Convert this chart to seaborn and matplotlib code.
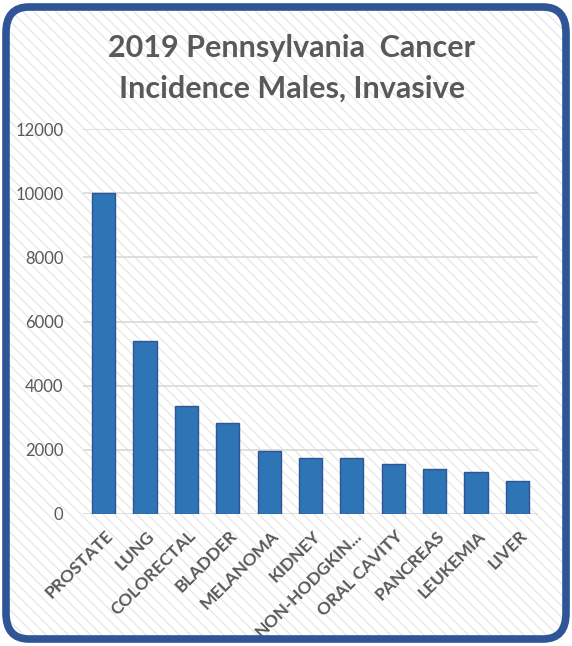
import matplotlib
matplotlib.use('Agg')
import matplotlib.pyplot as plt
from matplotlib.patches import FancyBboxPatch
from matplotlib.transforms import ScaledTranslation
import seaborn as sns
import pandas as pd

# data
cancer_sites = ['PROSTATE', 'LUNG', 'COLORECTAL', 'BLADDER', 'MELANOMA', 'KIDNEY',
                'NON-HODGKIN...', 'ORAL CAVITY', 'PANCREAS', 'LEUKEMIA', 'LIVER']
cases = [10000, 5400, 3370, 2845, 1970, 1760, 1760, 1565, 1400, 1295, 1040]
y_ticks = [0, 2000, 4000, 6000, 8000, 10000, 12000]

title = '2019 Pennsylvania  Cancer\nIncidence Males, Invasive'

sns.set_theme(style='white')
plt.rcParams['font.family'] = ['Lato', 'DejaVu Sans']
plt.rcParams['hatch.linewidth'] = 0.9

W, H = 572, 646
fig = plt.figure(figsize=(W / 100, H / 100), dpi=100)

# hatched background and rounded blue frame
bg = FancyBboxPatch((6 / W, 7 / H), (W - 12) / W, (H - 14) / H,
                    boxstyle='round,pad=0,rounding_size=0.04',
                    transform=fig.transFigure, facecolor='white',
                    edgecolor='#E6E6E6', hatch='\\\\\\', linewidth=0, zorder=0)
fig.patches.append(bg)
frame = FancyBboxPatch((6 / W, 7 / H), (W - 12) / W, (H - 14) / H,
                       boxstyle='round,pad=0,rounding_size=0.04',
                       transform=fig.transFigure, facecolor='none',
                       edgecolor='#2F5597', linewidth=5.5, zorder=5)
fig.patches.append(frame)

ax = fig.add_axes([83 / W, 1 - 514 / H, (538 - 83) / W, (514 - 129) / H])
ax.set_zorder(2)
ax.patch.set_alpha(0)

df = pd.DataFrame({'site': cancer_sites, 'cases': cases})
sns.barplot(data=df, x='site', y='cases', color='#2E75B6', saturation=1,
            width=0.56, edgecolor='#2F5597', linewidth=1, ax=ax, zorder=3)

ax.set_ylim(0, 12000)
ax.set_yticks(y_ticks)
ax.set_xlim(-0.5, len(cancer_sites) - 0.5)
ax.yaxis.grid(True, color='#D9D9D9', linewidth=1.2, zorder=0)
ax.set_axisbelow(True)
for s in ax.spines.values():
    s.set_visible(False)
ax.set_xlabel('')
ax.set_ylabel('')
ax.tick_params(axis='y', length=0, pad=14, labelsize=12, labelcolor='#595959')
ax.tick_params(axis='x', length=0, pad=14, labelsize=12.5, labelcolor='#595959')
shift = ScaledTranslation(7 / 100, 0, fig.dpi_scale_trans)
for lbl in ax.get_xticklabels():
    lbl.set_rotation(45)
    lbl.set_ha('right')
    lbl.set_va('center')
    lbl.set_rotation_mode('anchor')
    lbl.set_fontweight('bold')
    lbl.set_transform(lbl.get_transform() + shift)

fig.text(0.51, 1 - 68 / H, title, ha='center', va='center', fontsize=22,
         fontweight='bold', color='#595959', linespacing=1.55, zorder=6)

fig.savefig('out.png', dpi=100)
